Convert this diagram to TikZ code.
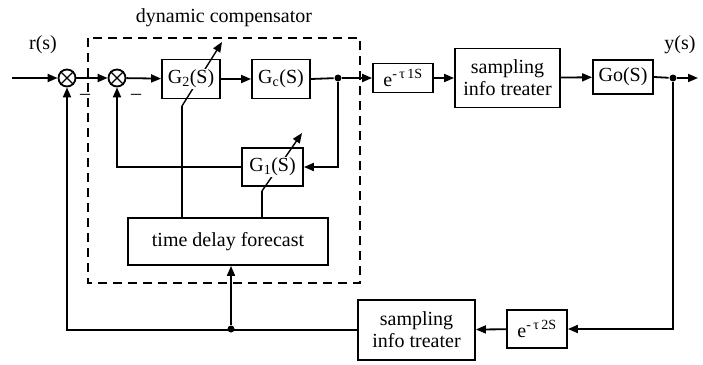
\documentclass[tikz,border=0pt]{standalone}
\usepackage{fontspec}
\setmainfont{Liberation Serif}
\usetikzlibrary{arrows.meta}
\begin{document}
\begin{tikzpicture}[x=1pt,y=-1pt,line width=1.8pt,
  font=\fontsize{20}{22}\selectfont,
  >={Triangle[length=10pt,width=8pt]},
  blk/.style={draw,inner sep=0pt,align=center},
  txt/.style={fill=white,inner sep=0.5pt},
  sum/.style={draw,circle,minimum size=17pt,inner sep=0pt},
  dot/.style={circle,fill,inner sep=0pt,minimum size=7pt}]
\useasboundingbox (0,0) rectangle (703,364);
% labels
\node (lab) at (224,18) {dynamic compensator};
\node (rs) at (43,45) {r(s)};
\node (ys) at (680,45) {y(s)};
% dashed compensator frame
\draw[line width=2.4pt,dash pattern=on 9pt off 6pt] (88,38) rectangle (360,283);
% junctions
\node[sum] (s1) at (67,78) {};
\node[sum] (s2) at (117,78) {};
\foreach \s in {s1,s2}{
  \draw[line width=1.4pt] (\s.north west) -- (\s.south east);
  \draw[line width=1.4pt] (\s.north east) -- (\s.south west);}
\node (m1) at (85,97) {–};
\node (m2) at (136,97) {–};
% blocks
\node[blk,minimum width=58pt,minimum height=39pt] (g2) at (191,79) {};
\node[blk,minimum width=58pt,minimum height=39pt] (gc) at (281,79) {G\textsubscript{c}(S)};
\node[blk,minimum width=60pt,minimum height=29pt] (e1) at (403,78) {e\textsuperscript{-\,τ\,1S}};
\node[blk,minimum width=105pt,minimum height=59pt] (st1) at (507.5,78) {sampling\\info treater};
\node[blk,minimum width=60pt,minimum height=34pt] (go) at (623,77) {Go(S)};
\node[blk,minimum width=61pt,minimum height=38pt] (g1) at (272.5,167) {};
\node[blk,minimum width=200pt,minimum height=47pt] (tdf) at (228,241.5) {time delay forecast};
\node[blk,minimum width=60pt,minimum height=38pt] (e2) at (537,329) {e\textsuperscript{-\,τ\,2S}};
\node[blk,minimum width=117pt,minimum height=60pt] (st2) at (416.5,330) {sampling\\info treater};
% coordinates
\coordinate (in) at (12,78);
\node[dot] (d1) at (338,78) {};
\node[dot] (d2) at (673,78) {};
\coordinate (out) at (698,78);
\node[dot] (d3) at (231,329) {};
\coordinate (t2) at (182,106);
\coordinate (h2) at (222,42);
\coordinate (t1) at (262,191);
\coordinate (h1) at (302,133);
% forward path
\draw[->] (in) -- (s1);
\draw[->] (s1) -- (s2);
\draw[->] (s2) -- (g2);
\draw[->] (g2) -- (gc);
\draw (gc.east) -- (d1);
\draw[->] (d1) -- (e1);
\draw[->] (e1) -- (st1);
\draw[->] (st1) -- (go);
\draw (go.east) -- (d2);
\draw[->] (d2) -- (out);
% outer feedback
\draw[->] (d2) |- (e2);
\draw[->] (e2) -- (st2);
\draw[->] (st2.west) -| (s1.south);
\draw[->] (d3) -- (tdf.south -| d3);
% inner loop
\draw[->] (d1) |- (g1.east);
\draw[->] (g1.west) -| (s2.south);
% adaptive arrows
\draw (tdf.north -| t2) -- (t2);
\draw[->,line width=1.4pt] (t2) -- (h2);
\draw (tdf.north -| t1) -- (t1);
\draw[->,line width=1.4pt] (t1) -- (h1);
% adjustable block texts over the arrows
\node[txt] (g2t) at (g2) {G\textsubscript{2}(S)};
\node[txt] (g1t) at (g1) {G\textsubscript{1}(S)};
\end{tikzpicture}
\end{document}
